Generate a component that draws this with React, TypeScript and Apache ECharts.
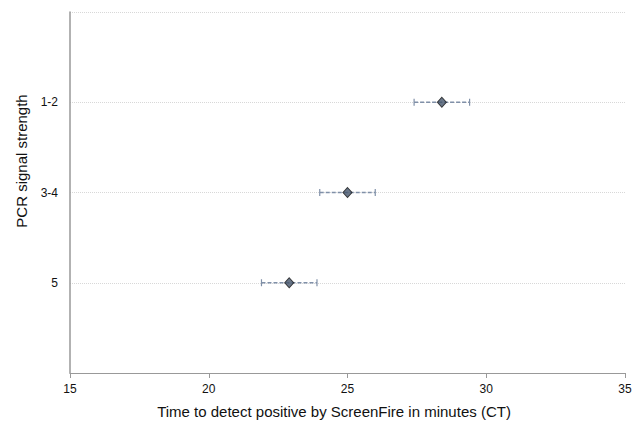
import React, { useEffect, useRef } from "react";
import * as echarts from "echarts";

const categories = ["5", "3-4", "1-2"];
const means = [22.9, 25.0, 28.4];
const lows = [21.9, 24.0, 27.4];
const highs = [23.9, 26.0, 29.4];
const xTitle = "Time to detect positive by ScreenFire in minutes (CT)";
const yTitle = "PCR signal strength";

export default function App() {
  const ref = useRef<HTMLDivElement>(null);
  useEffect(() => {
    const chart = echarts.init(ref.current!, null, { renderer: "svg" });
    const errData = categories.map((_, i) => [i + 1, lows[i], highs[i]]);
    const ptData = categories.map((_, i) => [means[i], i + 1]);
    chart.setOption({
      animation: false,
      grid: { left: 70, right: 16, top: 12, bottom: 51, containLabel: false },
      graphic: [
        {
          type: "text",
          x: 334,
          y: 411,
          style: { text: xTitle, fontFamily: "Liberation Sans", fontSize: 15, fill: "#111", align: "center", verticalAlign: "middle" },
        },
        {
          type: "text",
          x: 21,
          y: 161,
          rotation: Math.PI / 2,
          style: { text: yTitle, fontFamily: "Liberation Sans", fontSize: 15, fill: "#111", align: "center", verticalAlign: "middle" },
        },
      ],
      xAxis: {
        type: "value",
        min: 15,
        max: 35,
        interval: 5,
        axisLine: { show: true, lineStyle: { color: "#999", width: 1 } },
        axisTick: { show: true, length: 5, lineStyle: { color: "#999" } },
        axisLabel: { fontFamily: "Liberation Sans", fontSize: 12, color: "#111", margin: 10 },
        splitLine: { show: false },
      },
      yAxis: {
        type: "value",
        min: 0,
        max: 4,
        interval: 1,
        axisLine: { show: true, lineStyle: { color: "#999", width: 1.5 } },
        axisTick: { show: false },
        axisLabel: {
          fontFamily: "Liberation Sans",
          fontSize: 12,
          color: "#111",
          margin: 12,
          formatter: (v: number) => (v >= 1 && v <= 3 ? categories[v - 1] : ""),
        },
        splitLine: { show: true, lineStyle: { color: "#d8d8d8", type: "dotted", width: 1 } },
      },
      series: [
        {
          type: "custom",
          data: errData,
          encode: { x: [1, 2], y: 0 },
          renderItem: (params: any, api: any) => {
            const y = api.value(0);
            const lo = api.coord([api.value(1), y]);
            const hi = api.coord([api.value(2), y]);
            const c = "#8090a8";
            const h = 3.5;
            return {
              type: "group",
              children: [
                { type: "line", shape: { x1: lo[0], y1: lo[1], x2: hi[0], y2: hi[1] }, style: { stroke: c, lineWidth: 1.5, lineDash: [4, 2] } },
                { type: "line", shape: { x1: lo[0], y1: lo[1] - h, x2: lo[0], y2: lo[1] + h }, style: { stroke: c, lineWidth: 1.2 } },
                { type: "line", shape: { x1: hi[0], y1: hi[1] - h, x2: hi[0], y2: hi[1] + h }, style: { stroke: c, lineWidth: 1.2 } },
              ],
            };
          },
          z: 2,
        },
        {
          type: "scatter",
          data: ptData,
          symbol: "diamond",
          symbolSize: [9, 10],
          itemStyle: { color: "#44546a", borderColor: "#111", borderWidth: 1 },
          z: 3,
        },
      ],
    });
    return () => chart.dispose();
  }, []);
  return <div ref={ref} style={{ width: 641, height: 424, position: "absolute", left: 0, top: 0 }} />;
}
